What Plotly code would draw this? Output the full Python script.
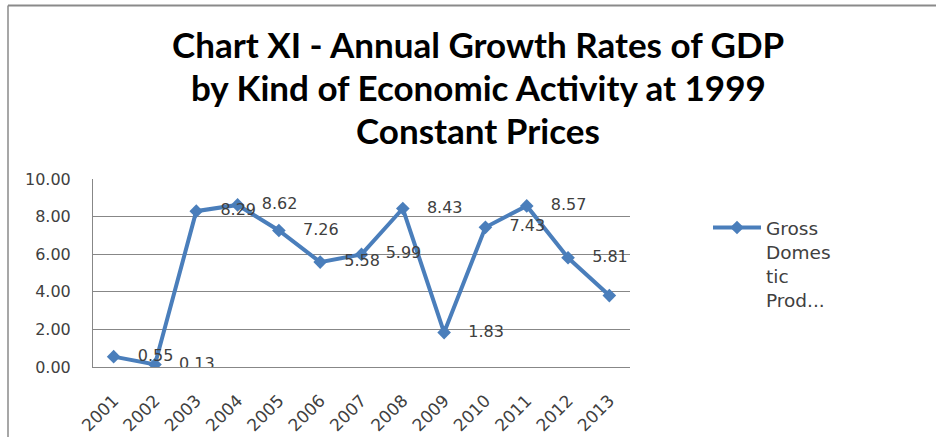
import plotly.graph_objects as go

# Annual GDP growth rates (%)
years = ["2001", "2002", "2003", "2004", "2005", "2006", "2007",
         "2008", "2009", "2010", "2011", "2012", "2013"]
growth = [0.55, 0.13, 8.29, 8.62, 7.26, 5.58, 5.99, 8.43, 1.83, 7.43, 8.57, 5.81, 3.80]
growth_labels = [f"{v:.2f}" for v in growth]
y_ticks = [0, 2, 4, 6, 8, 10]
y_tick_labels = [f"{v:.2f}" for v in y_ticks]
series_name = "Gross<br>Domes<br>tic<br>Prod..."
title_lines = ["Chart XI - Annual Growth Rates of GDP",
               "by Kind of Economic Activity at 1999",
               "Constant Prices"]

W, H = 936, 437
ML, MR, MT, MB = 93, 306, 179, 70
PW, PH = W - ML - MR, H - MT - MB

LINE_BLUE = "#4A7EBB"
GRID = "#878787"
LABEL_FONT = "DejaVu Sans"


def px_x(x):
    return (x - ML) / PW


def px_y(y):
    return (H - MB - y) / PH


fig = go.Figure()

fig.add_trace(go.Scatter(
    x=years, y=growth, name=series_name,
    mode="lines+markers",
    line=dict(color=LINE_BLUE, width=4),
    marker=dict(symbol="diamond", size=10.5, color=LINE_BLUE),
))

# value labels placed to the right of each point
fig.add_trace(go.Scatter(
    x=years, y=growth, text=growth_labels,
    mode="markers+text", textposition="middle right",
    marker=dict(size=37, color="rgba(0,0,0,0)"),
    textfont=dict(family=LABEL_FONT, size=16, color="#404040"),
    showlegend=False, hoverinfo="skip",
))

# outer frame of the chart
fig.add_shape(type="line", xref="paper", yref="paper",
              x0=px_x(8), x1=px_x(W + 2), y0=px_y(5.5), y1=px_y(5.5),
              line=dict(color="#8A8A8A", width=2))
fig.add_shape(type="line", xref="paper", yref="paper",
              x0=px_x(8), x1=px_x(8), y0=px_y(5.5), y1=px_y(H + 2),
              line=dict(color="#8A8A8A", width=1.5))

# three-line chart title
for i, line in enumerate(title_lines):
    fig.add_annotation(
        text=line, xref="paper", yref="paper",
        x=px_x(478), y=px_y(44 + 43 * i), xanchor="center", yanchor="middle",
        showarrow=False,
        font=dict(family="Lato", size=35, color="#000000", weight="bold"),
    )

fig.update_layout(
    width=W, height=H,
    margin=dict(l=ML, r=MR, t=MT, b=MB, autoexpand=False),
    paper_bgcolor="white", plot_bgcolor="white",
    xaxis=dict(
        type="category", range=[-0.5, len(years) - 0.5],
        tickangle=-45, showgrid=False, showline=True, linecolor=GRID, linewidth=1,
        ticks="", ticklabelstandoff=16,
        tickfont=dict(family=LABEL_FONT, size=17, color="#404040"),
        fixedrange=True,
    ),
    yaxis=dict(
        range=[0, 10], tickvals=y_ticks, ticktext=y_tick_labels,
        showgrid=True, gridcolor=GRID, gridwidth=1,
        showline=True, linecolor=GRID, linewidth=1, zeroline=False,
        ticks="", ticklabelstandoff=18,
        tickfont=dict(family=LABEL_FONT, size=16, color="#404040"),
        fixedrange=True,
    ),
    legend=dict(
        x=px_x(708), xanchor="left", y=px_y(209), yanchor="top",
        valign="top", itemwidth=48,
        font=dict(family=LABEL_FONT, size=18.5, color="#404040"),
        bgcolor="rgba(0,0,0,0)",
    ),
    showlegend=True,
)

fig.write_html("out.html")
